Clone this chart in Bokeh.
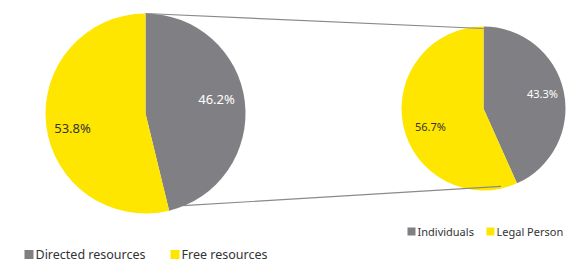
import math
from bokeh.plotting import figure
from bokeh.models import ColumnDataSource, Range1d
from bokeh.core.properties import value
from bokeh.embed import file_html
from bokeh.resources import INLINE

# Data
main_labels = ["Directed resources", "Free resources"]
main_values = [46.2, 53.8]
sub_labels = ["Individuals", "Legal Person"]
sub_values = [43.3, 56.7]
colors = ["#807f83", "#ffe600"]
label_colors = ["#ffffff", "#333333"]

W, H = 567, 262
def Y(py):
    return H - py
def X(px):
    return px

p = figure(width=W, height=H, output_backend="svg", toolbar_location=None,
           x_range=Range1d(0, W), y_range=Range1d(0, H), min_border=0)
p.axis.visible = False
p.grid.visible = False
p.outline_line_color = None
p.background_fill_color = "white"

def pie(cx, cy, r, vals, label_pos, fsize):
    total = sum(vals)
    start = math.pi / 2
    starts, ends = [], []
    a0 = start - 2 * math.pi * vals[0] / total
    starts.append(a0); ends.append(start)
    starts.append(start); ends.append(a0 + 2 * math.pi)
    src = ColumnDataSource(dict(x=[cx] * 2, y=[cy] * 2, s=starts, e=ends, c=colors))
    p.wedge(x="x", y="y", radius=r, start_angle="s", end_angle="e",
            fill_color="c", line_color=None, source=src)
    txt = [f"{v:.1f}%" for v in vals]
    tsrc = ColumnDataSource(dict(x=[lp[0] for lp in label_pos], y=[lp[1] for lp in label_pos],
                                 t=txt, c=label_colors))
    p.text(x="x", y="y", text="t", text_color="c", source=tsrc,
           text_font=value("Noto Sans"), text_font_size=fsize,
           text_align="center", text_baseline="middle")
    return a0

lcx, lcy, lr = X(145), Y(113), 100
rcx, rcy, rr = X(483), Y(108), 82

a_left = pie(lcx, lcy, lr, main_values, [(X(216), Y(98)), (X(72), Y(127))], "13px")
a_right = pie(rcx, rcy, rr, sub_values, [(X(542), Y(93)), (X(430), Y(126))], "11px")

# connector lines
p.line([lcx, rcx], [lcy + lr, rcy + rr - 2], line_color="#8a8a8a", line_width=1.2)
bx0 = lcx + lr * math.cos(a_left) + 14
by0 = lcy + lr * math.sin(a_left) + 5
bx1 = rcx + rr * math.cos(a_right) - 16
by1 = rcy + rr * math.sin(a_right) - 3
p.line([bx0, bx1], [by0, by1], line_color="#8a8a8a", line_width=1.2)

# legends
def legend(items, xs, py, size, fsize):
    p.rect(x=[X(x) + size / 2 for x in xs], y=[Y(py)] * len(xs), width=size, height=size,
           fill_color=colors, line_color=None)
    p.text(x=[X(x) + size + 2 for x in xs], y=[Y(py)] * len(xs), text=items,
           text_color="#333333", text_font=value("Noto Sans"), text_font_size=fsize,
           text_align="left", text_baseline="middle")

legend(main_labels, [24, 170], 254, 9, "12.5px")
legend(sub_labels, [407, 486], 231, 8, "11px")

open("out.html", "w").write(file_html(p, INLINE))
